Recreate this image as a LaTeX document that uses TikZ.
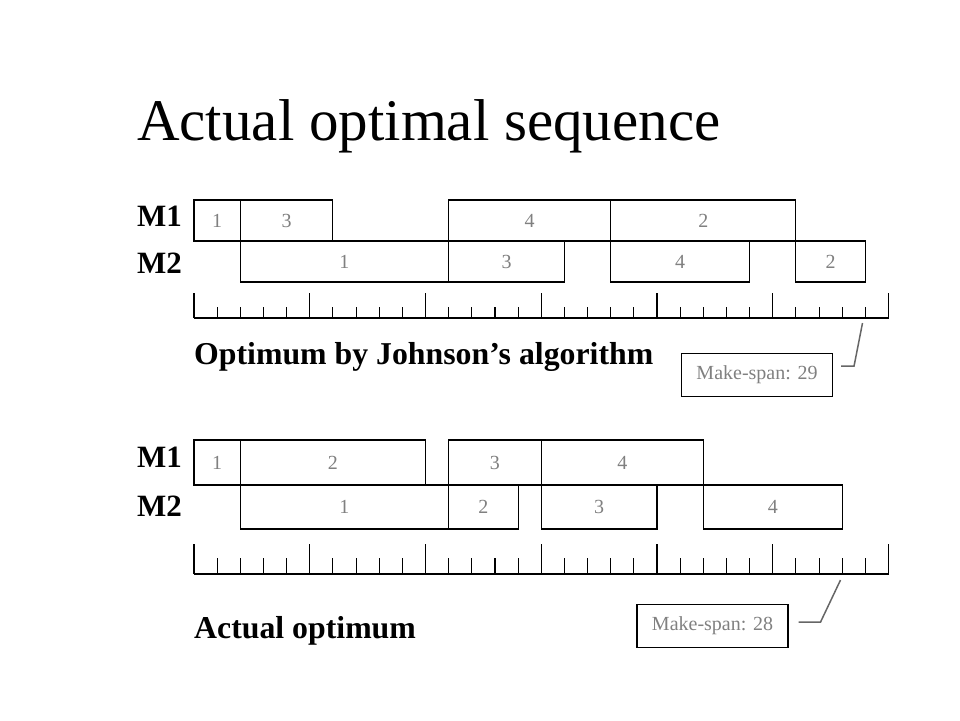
\documentclass[tikz,border=0pt]{standalone}
\usepackage{fontspec}
\setmainfont{Liberation Serif}
\usetikzlibrary{positioning}
\definecolor{jobgray}{gray}{0.5}
\newcommand\ganttunit{23.15}
\newcommand\ganttorigin{194}
\tikzstyle{jobbox} = [draw=black, line width=1.1pt]
\tikzstyle{joblabel} = [text=jobgray, font=\fontsize{20}{20}\selectfont]
\tikzstyle{machine} = [anchor=base west, inner sep=0pt, font=\fontsize{31}{31}\selectfont\bfseries]
\tikzstyle{caption} = [anchor=base west, inner sep=0pt, font=\fontsize{31.8}{32}\selectfont\bfseries]
\tikzstyle{spanbox} = [draw=black, line width=1.1pt, minimum width=151pt, minimum height=43pt, text=jobgray, font=\fontsize{20}{20}\selectfont]
\tikzstyle{spanline} = [draw=black!60, line width=1.5pt]
\newcommand\job[5]{%
  \draw[jobbox] ({\ganttorigin+#1*\ganttunit},#3) rectangle ({\ganttorigin+#2*\ganttunit},#4);
  \node[joblabel] at ({\ganttorigin+(#1+#2)/2*\ganttunit},{(#3+#4)/2}) {#5};}
\newcommand\timeaxis[3]{%
  \draw[line width=1.1pt] (\ganttorigin,#1) -- ({\ganttorigin+30*\ganttunit},#1);
  \foreach \t in {1,...,29}
    \draw[line width=1.1pt] ({\ganttorigin+\t*\ganttunit},#1) -- ({\ganttorigin+\t*\ganttunit},#3);
  \foreach \t in {0,5,...,30}
    \draw[line width=1.1pt] ({\ganttorigin+\t*\ganttunit},#1) -- ({\ganttorigin+\t*\ganttunit},#2);}

\begin{document}
\begin{tikzpicture}[x=1pt, y=-1pt]
	    \useasboundingbox (0,0) rectangle (960,720);
	    \node[anchor=base west, inner sep=0pt, font=\fontsize{59}{59}\selectfont] (title) at (137,140) {Actual optimal sequence};

	    % Johnson's sequence
	    \node[machine] (m1a) at (137,226) {M1};
	    \node[machine] (m2a) at (137,273) {M2};
	    \job{0}{2}{200}{241}{1}
	    \job{2}{6}{200}{241}{3}
	    \job{11}{18}{200}{241}{4}
	    \job{18}{26}{200}{241}{2}
	    \job{2}{11}{241}{282}{1}
	    \job{11}{16}{241}{282}{3}
	    \job{18}{24}{241}{282}{4}
	    \job{26}{29}{241}{282}{2}
	    \timeaxis{318}{293}{307}
	    \node[caption] (johnson) at (194,364) {Optimum by Johnson's algorithm};
	    \node[spanbox] (span1) at (757,375) {Make-span: 29};
	    \coordinate (end29) at (862.5,323);
	    \draw[spanline] ([xshift=8pt,yshift=9pt]span1.east) -- ++(13,0) -- (end29);

	    % actual optimum
	    \node[machine] (m1b) at (137,467) {M1};
	    \node[machine] (m2b) at (137,516) {M2};
	    \job{0}{2}{440}{485}{1}
	    \job{2}{10}{440}{485}{2}
	    \job{11}{15}{440}{485}{3}
	    \job{15}{22}{440}{485}{4}
	    \job{2}{11}{485}{529}{1}
	    \job{11}{14}{485}{529}{2}
	    \job{15}{20}{485}{529}{3}
	    \job{22}{28}{485}{529}{4}
	    \timeaxis{574}{544}{558}
	    \node[caption] (actual) at (194,638) {Actual optimum};
	    \node[spanbox] (span2) at (712.5,626) {Make-span: 28};
	    \coordinate (end28) at (840.5,580);
	    \draw[spanline] ([xshift=10pt,yshift=4pt]span2.east) -- ++(22,0) -- (end28);
\end{tikzpicture}
\end{document}
